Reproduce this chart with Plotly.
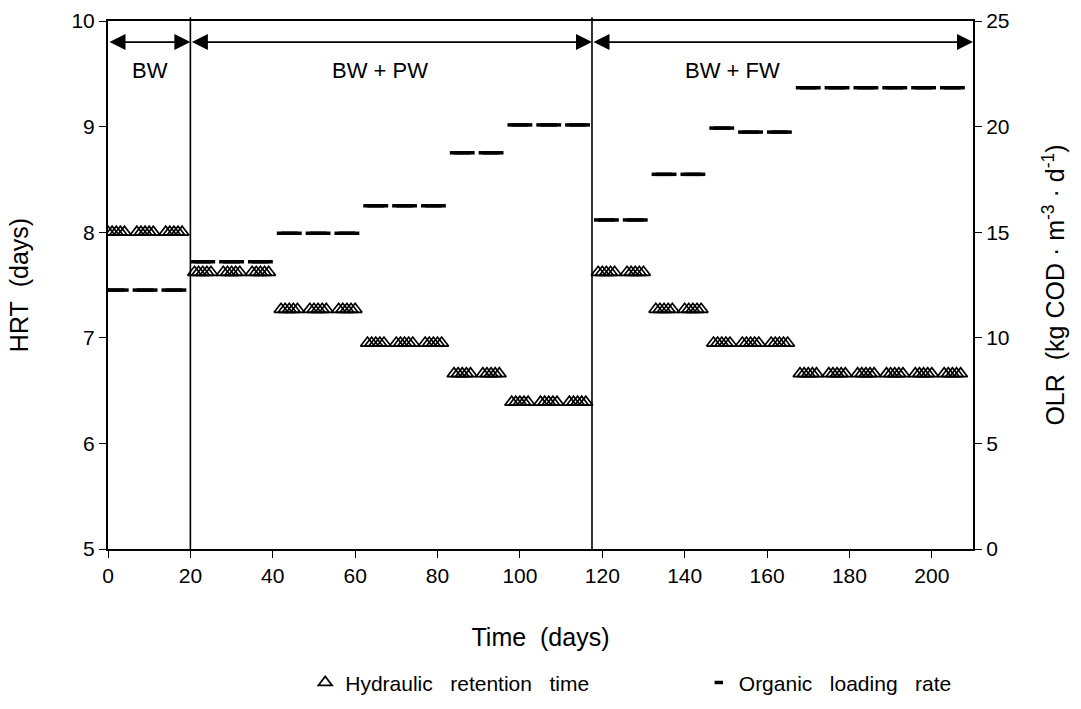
import plotly.graph_objects as go

# ---- data ----
week_start = [0, 7, 14, 21, 28, 35, 42, 49, 56, 63, 70, 77, 84, 91, 98, 105, 112,
              119, 126, 133, 140, 147, 154, 161, 168, 175, 182, 189, 196, 203]
weekday_offsets = [0, 1, 2, 3, 4]
hrt_week = [8.0, 8.0, 8.0, 7.62, 7.62, 7.62, 7.27, 7.27, 7.27, 6.95, 6.95, 6.95,
            6.66, 6.66, 6.39, 6.39, 6.39,
            7.62, 7.62, 7.27, 7.27, 6.95, 6.95, 6.95, 6.66, 6.66, 6.66, 6.66, 6.66, 6.66]
olr_week = [12.26, 12.26, 12.26, 13.6, 13.6, 13.6, 14.95, 14.95, 14.95, 16.25, 16.25, 16.25,
            18.76, 18.76, 20.08, 20.08, 20.08,
            15.58, 15.58, 17.74, 17.74, 19.93, 19.74, 19.74, 21.84, 21.84, 21.84, 21.84, 21.84, 21.84]

phase_bounds = [0, 20, 117.5, 210]
phase_labels = ["BW", "BW + PW", "BW + FW"]
phase_label_x = [10.3, 66, 151.5]

x_ticks = [0, 20, 40, 60, 80, 100, 120, 140, 160, 180, 200]

days = [w + d for w in week_start for d in weekday_offsets]
hrt = [h for h in hrt_week for _ in weekday_offsets]
olr = [o for o in olr_week for _ in weekday_offsets]

FONT = "Liberation Sans, Arial, sans-serif"
FS = 21

fig = go.Figure()
fig.add_trace(go.Scatter(
    x=days, y=hrt, mode="markers", name="Hydraulic\u00a0\u00a0 retention\u00a0\u00a0 time",
    marker=dict(symbol="triangle-up-open", size=12, color="black",
                line=dict(color="black", width=1.7)),
    yaxis="y", legend="legend"))
fig.add_trace(go.Scatter(
    x=days, y=olr, mode="markers", name="Organic\u00a0\u00a0 loading\u00a0\u00a0 rate",
    marker=dict(symbol="line-ew", size=6, color="black",
                line=dict(color="black", width=3.5)),
    yaxis="y2", legend="legend2"))

# phase separators
for b in phase_bounds[1:-1]:
    fig.add_shape(type="line", xref="x", yref="paper", x0=b, x1=b, y0=0, y1=1.007,
                  line=dict(color="black", width=1.6))

# double-headed arrows and labels
for i in range(len(phase_labels)):
    fig.add_annotation(x=phase_bounds[i + 1], y=9.80, ax=phase_bounds[i], ay=9.80,
                       xref="x", yref="y", axref="x", ayref="y", text="",
                       showarrow=True, arrowhead=2, startarrowhead=2, arrowside="end+start",
                       arrowsize=2.0, startarrowsize=2.0, arrowwidth=1.6, arrowcolor="black",
                       standoff=0, startstandoff=0)
    fig.add_annotation(x=phase_label_x[i], y=9.536, xref="x", yref="y", text=phase_labels[i],
                       showarrow=False, font=dict(family=FONT, size=22, color="black"))

leg_common = dict(orientation="h", yanchor="middle", yref="container", y=0.037,
                  xanchor="left", font=dict(family=FONT, size=FS, color="black"),
                  itemwidth=30, bgcolor="rgba(0,0,0,0)")

fig.update_layout(
    width=1081, height=709,
    margin=dict(l=108, r=108, t=21, b=160),
    paper_bgcolor="white", plot_bgcolor="white",
    font=dict(family=FONT, size=FS, color="black"),
    showlegend=True,
    legend=dict(x=0.228, **leg_common),
    legend2=dict(x=0.683, **leg_common),
    xaxis=dict(range=[0, 210], tickvals=x_ticks, ticks="outside", ticklen=7,
               tickcolor="black", tickwidth=1, showline=True, linecolor="black", linewidth=2,
               mirror=True, showgrid=False, zeroline=False, automargin=False,
               title=dict(text="Time\u00a0 (days)", standoff=42),
               tickfont=dict(size=FS)),
    yaxis=dict(range=[5, 10], dtick=1, ticks="outside", ticklen=7, tickcolor="black",
               tickwidth=1, showline=True, linecolor="black", linewidth=2,
               showgrid=False, zeroline=False, automargin=False,
               title=dict(text="HRT\u00a0 (days)", standoff=36),
               tickfont=dict(size=FS)),
    yaxis2=dict(range=[0, 25], dtick=5, overlaying="y", side="right", ticks="outside",
                ticklen=7, tickcolor="black", tickwidth=1, showline=True, linecolor="black",
                linewidth=2, showgrid=False, zeroline=False, automargin=False,
                title=dict(text="OLR\u00a0 (kg COD\u00a0\u00b7\u00a0m<sup>-3</sup>\u00a0\u00b7\u00a0d<sup>-1</sup>)",
                           standoff=38),
                tickfont=dict(size=FS)),
)

fig.write_html("out.html")
